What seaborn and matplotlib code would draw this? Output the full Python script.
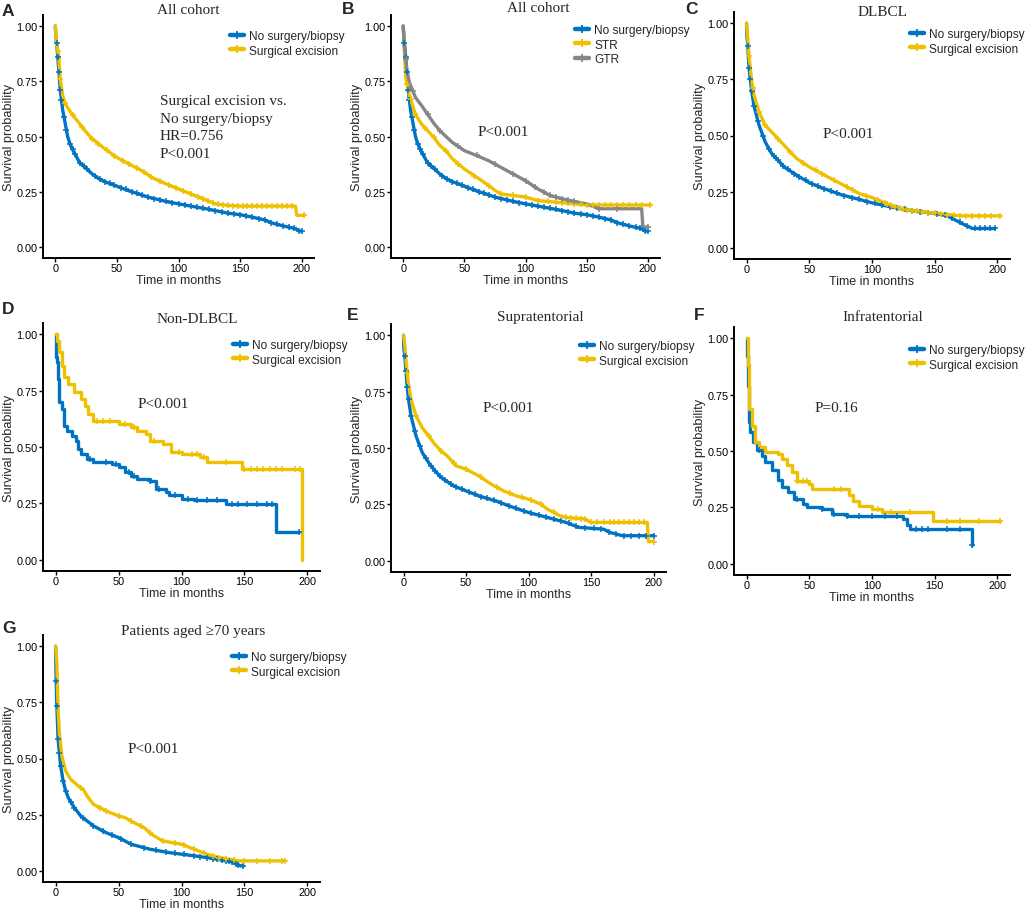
import numpy as np
import pandas as pd
import matplotlib
matplotlib.use("Agg")
import matplotlib.pyplot as plt
from matplotlib.lines import Line2D
import seaborn as sns

# jco palette
BLUE = "#0073C2"
YELLOW = "#EFC000"
GREY = "#868686"

# ---- A / B: all cohort, no surgery/biopsy ----
a_none_t = [0, 0.5, 1.5, 3, 4, 6, 8, 10, 12, 15, 18, 20, 25, 30, 35, 40, 50, 60, 75, 90,
            100, 110, 125, 140, 150, 160, 170, 175, 185, 195, 198, 200]
a_none_s = [1.0, 0.95, 0.895, 0.79, 0.71, 0.62, 0.56, 0.50, 0.465, 0.43, 0.40, 0.38, 0.356, 0.33,
            0.31, 0.296, 0.275, 0.254, 0.226, 0.206, 0.195, 0.185, 0.17, 0.153, 0.146, 0.135,
            0.122, 0.11, 0.095, 0.083, 0.072, 0.072]
a_none_c = [1, 2, 3, 4, 5, 7, 9, 12, 14, 16, 20, 23, 26, 32, 36, 40, 44, 48, 53, 57, 62, 66, 70,
            75, 80, 85, 90, 95, 100, 105, 110, 115, 120, 125, 130, 135, 140, 145, 150, 155, 160,
            165, 170, 175, 180, 185, 190, 194, 198, 200]

# ---- A: surgical excision ----
a_surg_t = [0, 0.5, 1, 2.7, 4, 6, 8, 10, 15, 20, 25, 30, 40, 50, 60, 70, 80, 90, 100, 110,
            120, 130, 140, 150, 195, 196, 202]
a_surg_s = [1.0, 0.95, 0.92, 0.865, 0.76, 0.685, 0.65, 0.63, 0.59, 0.556, 0.52, 0.49, 0.445,
            0.405, 0.375, 0.346, 0.31, 0.285, 0.263, 0.24, 0.218, 0.195, 0.188, 0.185, 0.185,
            0.143, 0.143]
a_surg_c = [2, 4, 8, 14, 22, 30, 35, 42, 48, 55, 60, 66, 72, 78, 85, 92, 98, 104, 110, 116, 120,
            124, 128, 132, 136, 140, 144, 148, 152, 156, 160, 164, 168, 172, 176, 180, 184, 188,
            192, 202]

# ---- B: STR / GTR ----
b_str_t = [0, 0.5, 2, 4, 6, 10, 15, 20, 25, 30, 35, 40, 50, 60, 70, 75, 80, 100, 110, 130, 150, 202]
b_str_s = [1.0, 0.947, 0.77, 0.707, 0.67, 0.60, 0.556, 0.526, 0.496, 0.459, 0.436, 0.40, 0.353,
           0.316, 0.278, 0.256, 0.24, 0.226, 0.21, 0.20, 0.19, 0.19]
b_str_c = [3, 6, 10, 18, 25, 35, 45, 58, 70, 80, 90, 100, 110, 118, 125, 130, 135, 140, 145, 150,
           155, 160, 165, 170, 175, 180, 185, 190, 195, 202]
b_gtr_t = [0, 1, 3, 5, 10, 15, 20, 25, 30, 40, 50, 60, 70, 80, 90, 100, 110, 120, 130, 140,
           150, 160, 195, 196, 200]
b_gtr_s = [1.0, 0.9, 0.8, 0.745, 0.677, 0.64, 0.60, 0.56, 0.526, 0.474, 0.436, 0.414, 0.39,
           0.36, 0.33, 0.30, 0.263, 0.233, 0.218, 0.206, 0.195, 0.173, 0.173, 0.09, 0.09]
b_gtr_c = [2, 8, 20, 30, 45, 60, 75, 90, 100, 108, 115, 120, 125, 130, 135, 140, 160, 175, 200]

# ---- C: DLBCL ----
c_none_t = [0, 0.3, 1, 2, 4, 6, 10, 15, 20, 30, 40, 50, 60, 75, 90, 100, 115, 130, 150, 160,
            170, 180, 198]
c_none_s = [1.0, 0.94, 0.9, 0.80, 0.70, 0.63, 0.545, 0.47, 0.42, 0.36, 0.323, 0.29, 0.267,
            0.237, 0.215, 0.20, 0.182, 0.167, 0.153, 0.142, 0.113, 0.086, 0.086]
c_none_c = [1, 2, 3, 4, 6, 9, 13, 18, 22, 25, 29, 33, 38, 42, 47, 52, 57, 62, 67, 72, 78, 84, 90,
            96, 102, 108, 114, 120, 126, 132, 138, 145, 152, 158, 164, 170, 176, 182, 186, 190,
            194, 198]
c_surg_c = [2, 5, 10, 15, 25, 35, 45, 55, 60, 70, 80, 85, 95, 105, 110, 112, 115, 118, 122, 125,
            128, 132, 136, 140, 145, 150, 155, 160, 165, 170, 175, 180, 185, 190, 195, 202]
c_surg_t = [0, 1, 2, 4, 6, 10, 15, 20, 25, 30, 40, 50, 60, 70, 80, 90, 100, 110, 120, 130,
            140, 160, 170, 202]
c_surg_s = [1.0, 0.93, 0.856, 0.745, 0.68, 0.604, 0.545, 0.516, 0.486, 0.456, 0.397, 0.36,
            0.33, 0.30, 0.271, 0.241, 0.224, 0.20, 0.178, 0.167, 0.16, 0.148, 0.142, 0.142]

# ---- D: non-DLBCL ----
d_none_t = [0, 0.5, 1, 2, 3, 5, 7, 9, 13, 16, 18, 20, 25, 30, 45, 50, 55, 60, 65, 75, 80, 88,
            90, 100, 110, 135, 175, 193]
d_none_s = [1.0, 0.9, 0.875, 0.80, 0.70, 0.67, 0.594, 0.572, 0.55, 0.528, 0.49, 0.47, 0.447,
            0.432, 0.425, 0.41, 0.388, 0.373, 0.358, 0.351, 0.314, 0.30, 0.285, 0.27, 0.263,
            0.248, 0.122, 0.122]
d_none_c = [27, 40, 48, 58, 62, 75, 82, 95, 105, 112, 120, 128, 140, 145, 152, 160, 168, 172, 193]
d_surg_t = [0, 1, 3, 5, 7, 10, 15, 20, 23, 26, 30, 50, 60, 65, 72, 75, 85, 92, 100, 115, 120,
            148, 196]
d_surg_s = [1.0, 0.97, 0.92, 0.86, 0.81, 0.78, 0.742, 0.712, 0.683, 0.646, 0.617, 0.60, 0.587,
            0.572, 0.557, 0.528, 0.513, 0.476, 0.469, 0.454, 0.432, 0.403, 0.0]
d_surg_c = [33, 38, 43, 55, 62, 78, 98, 108, 112, 118, 135, 150, 155, 160, 165, 170, 175, 180,
            190, 194]

# ---- E: supratentorial ----
e_none_t = [0, 0.3, 1, 2, 3, 4, 6, 10, 15, 20, 25, 30, 40, 50, 60, 75, 90, 100, 115, 130, 140,
            160, 165, 175, 200]
e_none_s = [1.0, 0.94, 0.908, 0.84, 0.77, 0.716, 0.643, 0.554, 0.48, 0.436, 0.40, 0.37, 0.332,
            0.31, 0.288, 0.263, 0.232, 0.214, 0.192, 0.17, 0.148, 0.14, 0.126, 0.111, 0.111]
e_none_c = [1, 2, 3, 4, 6, 9, 13, 18, 22, 25, 29, 33, 38, 42, 47, 52, 57, 62, 67, 72, 78, 84, 90,
            96, 102, 108, 114, 120, 126, 132, 138, 145, 152, 158, 164, 170, 176, 182, 188, 194, 200]
e_surg_t = [0, 1, 2, 4, 6, 10, 15, 20, 25, 30, 35, 42, 50, 60, 70, 80, 90, 100, 110, 115, 125,
            130, 145, 150, 195, 196, 200]
e_surg_s = [1.0, 0.96, 0.886, 0.783, 0.716, 0.643, 0.59, 0.554, 0.517, 0.487, 0.465, 0.421,
            0.406, 0.377, 0.34, 0.31, 0.288, 0.273, 0.251, 0.229, 0.20, 0.192, 0.185, 0.17,
            0.17, 0.085, 0.085]
e_surg_c = [3, 10, 20, 30, 40, 50, 62, 75, 85, 95, 102, 110, 120, 130, 134, 138, 142, 145, 150,
            155, 160, 165, 168, 172, 176, 180, 184, 188, 192, 200]

# ---- F: infratentorial ----
f_none_t = [0, 0.3, 1, 2, 3, 5, 8, 12, 15, 20, 25, 28, 33, 38, 45, 48, 60, 68, 80, 125, 128,
            130, 180]
f_none_s = [1.0, 0.92, 0.79, 0.628, 0.583, 0.54, 0.503, 0.48, 0.45, 0.414, 0.37, 0.34, 0.318,
            0.288, 0.266, 0.25, 0.244, 0.222, 0.211, 0.2, 0.17, 0.155, 0.081]
f_none_c = [10, 40, 60, 70, 80, 90, 100, 110, 120, 135, 140, 145, 160, 170, 180]
f_surg_t = [0, 1, 2, 4, 7, 10, 15, 25, 28, 32, 36, 40, 50, 52, 82, 85, 90, 100, 108, 149, 202]
f_surg_s = [1.0, 0.88, 0.687, 0.613, 0.54, 0.517, 0.495, 0.487, 0.465, 0.436, 0.406, 0.369,
            0.355, 0.332, 0.303, 0.28, 0.258, 0.244, 0.229, 0.188, 0.188]
f_surg_c = [40, 45, 48, 70, 75, 105, 115, 130, 160, 170, 185, 202]

# ---- G: patients aged >=70 ----
g_none_t = [0, 0.3, 1, 2, 3, 4, 6, 8, 10, 15, 20, 30, 40, 50, 60, 75, 90, 100, 120, 140, 147, 149]
g_none_s = [1.0, 0.89, 0.733, 0.585, 0.526, 0.467, 0.40, 0.356, 0.326, 0.28, 0.244, 0.20, 0.17,
            0.148, 0.118, 0.096, 0.081, 0.074, 0.059, 0.04, 0.022, 0.022]
g_none_c = [0.5, 1, 2, 3, 4, 6, 8, 12, 15, 22, 30, 38, 45, 52, 60, 70, 80, 88, 95, 102, 110, 115,
            120, 125, 128, 132, 135, 138, 140, 143, 145, 149]
g_surg_t = [0, 1, 2, 3, 5, 8, 12, 18, 22, 25, 30, 40, 50, 55, 62, 70, 78, 85, 100, 110, 120,
            130, 140, 145, 182]
g_surg_s = [1.0, 0.92, 0.72, 0.615, 0.51, 0.444, 0.407, 0.378, 0.363, 0.333, 0.296, 0.267,
            0.244, 0.237, 0.215, 0.193, 0.156, 0.133, 0.118, 0.096, 0.074, 0.059, 0.049, 0.044, 0.044]
g_surg_c = [20, 35, 40, 50, 60, 68, 75, 85, 95, 102, 110, 118, 125, 130, 135, 142, 150, 160, 170,
            180, 182]

NONE = "No surgery/biopsy"
SURG = "Surgical excision"

x_ticks = [0, 50, 100, 150, 200]
y_ticks = [0.0, 0.25, 0.5, 0.75, 1.0]
y_tick_labels = ["0.00", "0.25", "0.50", "0.75", "1.00"]

W, H = 1026, 912


def fx(x):
    return x / W


def fy(y):
    return 1 - y / H


# pixel layout: (left, right, top, bottom) of each panel, plus text anchors
panels = [
    dict(box=(43, 314, 16, 259), letter="A", letter_xy=(2, 11), title="All cohort", title_xy=(188, 11),
         note="Surgical excision vs.\nNo surgery/biopsy\nHR=0.756\nP<0.001", note_xy=(160, 128),
         leg_xy=(230, 31), steps=False,
         curves=[(NONE, BLUE, a_none_t, a_none_s, a_none_c), (SURG, YELLOW, a_surg_t, a_surg_s, a_surg_c)]),
    dict(box=(391, 660, 16, 259), letter="B", letter_xy=(342, 10), title="All cohort", title_xy=(538, 9),
         note="P<0.001", note_xy=(478, 132), leg_xy=(575, 25), steps=False,
         curves=[(NONE, BLUE, a_none_t, a_none_s, a_none_c), ("STR", YELLOW, b_str_t, b_str_s, b_str_c),
                 ("GTR", GREY, b_gtr_t, b_gtr_s, b_gtr_c)]),
    dict(box=(734, 1010, 13, 260), letter="C", letter_xy=(685, 10), title="DLBCL", title_xy=(883, 12),
         note="P<0.001", note_xy=(823, 135), leg_xy=(910, 29), steps=False,
         curves=[(NONE, BLUE, c_none_t, c_none_s, c_none_c), (SURG, YELLOW, c_surg_t, c_surg_s, c_surg_c)]),
    dict(box=(43, 320, 324, 572), letter="D", letter_xy=(2, 310), title="Non-DLBCL", title_xy=(197, 320),
         note="P<0.001", note_xy=(138, 405), leg_xy=(233, 340), steps=True,
         curves=[(NONE, BLUE, d_none_t, d_none_s, d_none_c), (SURG, YELLOW, d_surg_t, d_surg_s, d_surg_c)]),
    dict(box=(391, 666, 325, 573), letter="E", letter_xy=(347, 316), title="Supratentorial", title_xy=(540, 318),
         note="P<0.001", note_xy=(483, 408), leg_xy=(580, 341), steps=False,
         curves=[(NONE, BLUE, e_none_t, e_none_s, e_none_c), (SURG, YELLOW, e_surg_t, e_surg_s, e_surg_c)]),
    dict(box=(734, 1010, 328, 576), letter="F", letter_xy=(694, 316), title="Infratentorial", title_xy=(883, 318),
         note="P=0.16", note_xy=(815, 408), leg_xy=(910, 345), steps=True,
         curves=[(NONE, BLUE, f_none_t, f_none_s, f_none_c), (SURG, YELLOW, f_surg_t, f_surg_s, f_surg_c)]),
    dict(box=(43, 320, 636, 883), letter="G", letter_xy=(2, 629), title="Patients aged \u226570 years",
         title_xy=(193, 632), note="P<0.001", note_xy=(128, 750), leg_xy=(232, 652), steps=False,
         curves=[(NONE, BLUE, g_none_t, g_none_s, g_none_c), (SURG, YELLOW, g_surg_t, g_surg_s, g_surg_c)]),
]

sns.set_theme(style="ticks")
SANS = ["Liberation Sans", "DejaVu Sans"]
SERIF = ["Liberation Serif", "DejaVu Serif"]
plt.rcParams["font.family"] = SANS

fig = plt.figure(figsize=(W / 100, H / 100), dpi=100)

for p in panels:
    l, r, t, b = p["box"]
    ax = fig.add_axes([fx(l), fy(b), (r - l) / W, (b - t) / H])

    rows = []
    for label, color, times, surv, cens in p["curves"]:
        rows.append(pd.DataFrame({"time": times, "surv": surv, "group": label}))
    df = pd.concat(rows, ignore_index=True)
    order = [c[0] for c in p["curves"]]
    pal = {c[0]: c[1] for c in p["curves"]}

    sns.lineplot(data=df, x="time", y="surv", hue="group", hue_order=order, palette=pal,
                 estimator=None, drawstyle="steps-post" if p["steps"] else "default",
                 linewidth=2.4, legend=False, ax=ax)

    # censoring marks sit on the curve
    for label, color, times, surv, cens in p["curves"]:
        tt = np.asarray(times, dtype=float)
        ss = np.asarray(surv, dtype=float)
        if p["steps"]:
            idx = np.clip(np.searchsorted(tt, cens, side="right") - 1, 0, len(tt) - 1)
            yy = ss[idx]
        else:
            yy = np.interp(cens, tt, ss)
        ax.scatter(cens, yy, marker="+", s=22, color=color, linewidths=1.1, zorder=3)

    ax.set_xlim(-10, 210)
    ax.set_ylim(-0.05, 1.05)
    ax.set_xticks(x_ticks)
    ax.set_yticks(y_ticks)
    ax.set_yticklabels(y_tick_labels)
    ax.tick_params(axis="both", labelsize=7.8, colors="black", length=3.0, width=1.0, pad=0.8)
    ax.set_xlabel("Time in months", fontsize=9, labelpad=0.5)
    ax.set_ylabel("Survival probability", fontsize=9.2, labelpad=1.5)
    for sp in ["left", "bottom"]:
        ax.spines[sp].set_linewidth(1.4)
        ax.spines[sp].set_color("black")
    sns.despine(ax=ax)

    handles = [Line2D([0], [0], color=c[1], lw=3.2, marker="+", markersize=6, markeredgewidth=1.3)
               for c in p["curves"]]
    fig.legend(handles, order, loc="upper left", bbox_to_anchor=(fx(p["leg_xy"][0]), fy(p["leg_xy"][1])),
               frameon=False, fontsize=8.6, handlelength=1.2, handletextpad=0.4, labelspacing=0.22,
               borderpad=0, borderaxespad=0)

    fig.text(fx(p["letter_xy"][0]), fy(p["letter_xy"][1]), p["letter"], fontsize=12.5,
             fontweight="bold", ha="left", va="center", family=SANS)
    fig.text(fx(p["title_xy"][0]), fy(p["title_xy"][1]), p["title"], fontsize=11,
             ha="center", va="center", family=SERIF)
    fig.text(fx(p["note_xy"][0]), fy(p["note_xy"][1]), p["note"], fontsize=11,
             ha="left", va="center", family=SERIF, linespacing=1.45)

fig.savefig("out.png", dpi=100)
